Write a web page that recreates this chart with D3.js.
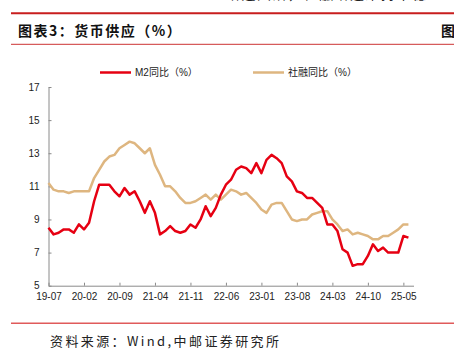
<!DOCTYPE html>
<html lang="zh">
<head>
<meta charset="UTF-8">
<title>货币供应</title>
<script src="https://d3js.org/d3.v7.min.js"></script>
<style>
  body { margin: 0; background: #fff; }
  svg { display: block; }
</style>
</head>
<body>
<div id="chart"></div>
<script>
  // tick labels on the x axis (one every 7 months)
  const tickLabels = ["19-07", "20-02", "20-09", "21-04", "21-11", "22-06", "23-01", "23-08", "24-03", "24-10", "25-05"];
  const tickStep = 7;
  const yTicks = [5, 7, 9, 11, 13, 15, 17];

  // M2 同比 (%), monthly
  const m2 = [
    8.5, 8.1, 8.2, 8.4, 8.4, 8.2, 8.7, 8.4, 8.8, 10.1, 11.1, 11.1,
    11.1, 10.7, 10.4, 10.9, 10.5, 10.7, 10.1, 9.4, 10.1, 9.4, 8.1, 8.3,
    8.6, 8.3, 8.2, 8.3, 8.7, 8.5, 9.0, 9.8, 9.2, 9.7, 10.5, 11.1,
    11.4, 12.0, 12.2, 12.1, 11.8, 12.4, 11.8, 12.6, 12.9, 12.7, 12.4, 11.6,
    11.3, 10.7, 10.6, 10.3, 10.3, 10.0, 9.7, 8.7, 8.7, 8.3, 7.2, 7.0,
    6.2, 6.3, 6.3, 6.8, 7.5, 7.1, 7.3, 7.0, 7.0, 7.0, 8.0, 7.9
  ];

  // 社融同比 (%), monthly
  const tsf = [
    11.2, 10.8, 10.7, 10.7, 10.6, 10.7, 10.7, 10.7, 10.7, 11.5, 12.0, 12.5,
    12.8, 12.9, 13.3, 13.5, 13.7, 13.6, 13.3, 13.0, 13.3, 12.3, 11.7, 11.0,
    11.0, 10.7, 10.3, 10.0, 10.0, 10.1, 10.3, 10.5, 10.2, 10.5, 10.2, 10.5,
    10.8, 10.7, 10.5, 10.6, 10.3, 10.0, 9.6, 9.4, 9.9, 10.0, 10.0, 9.5,
    9.0, 8.9, 9.0, 9.0, 9.3, 9.4, 9.5, 9.5, 9.0, 8.7, 8.3, 8.4,
    8.1, 8.2, 8.1, 8.0, 7.8, 7.8, 8.0, 8.0, 8.2, 8.4, 8.7, 8.7
  ];

  const red = "#e60012";
  const tan = "#deb680";
  const W = 454, H = 351;
  const plot = { left: 48.5, right: 413.5, top: 87, bottom: 285.7 };

  const svg = d3.select("#chart").append("svg")
    .attr("width", W)
    .attr("height", H);

  const cjk = "'Noto Sans CJK SC', 'Noto Sans', sans-serif";
  const latin = "'Liberation Sans', Arial, sans-serif";

  // page header (cut off at the top)
  svg.append("text")
    .attr("x", 226).attr("y", -1)
    .attr("font-family", cjk).attr("font-size", 14)
    .attr("letter-spacing", 1.5)
    .attr("fill", "#222")
    .text("增速回落，社融增速维持平稳");

  svg.append("line")
    .attr("x1", 11).attr("x2", W).attr("y1", 13.3).attr("y2", 13.3)
    .attr("stroke", "#c81e1e").attr("stroke-width", 2);

  svg.append("text")
    .attr("x", 18).attr("y", 36)
    .attr("font-family", cjk).attr("font-size", 14).attr("font-weight", "bold")
    .attr("letter-spacing", 1.5)
    .attr("fill", "#111")
    .text("图表3：货币供应（%）");

  svg.append("text")
    .attr("x", 441).attr("y", 36)
    .attr("font-family", cjk).attr("font-size", 14).attr("font-weight", "bold")
    .attr("fill", "#111")
    .text("图");

  svg.append("line")
    .attr("x1", 11).attr("x2", W).attr("y1", 44.3).attr("y2", 44.3)
    .attr("stroke", "#cc3333").attr("stroke-width", 1);

  // scales
  const x = d3.scaleLinear().domain([0, m2.length]).range([plot.left, plot.right]);
  const y = d3.scaleLinear().domain([5, 17]).range([plot.bottom, plot.top]);

  // axes with inward ticks
  const xAxis = d3.axisBottom(x)
    .tickValues(tickLabels.map((d, i) => i * tickStep))
    .tickFormat((d, i) => tickLabels[i])
    .tickSize(-3)
    .tickSizeOuter(0)
    .tickPadding(7);

  const yAxis = d3.axisLeft(y)
    .tickValues(yTicks)
    .tickSize(-3)
    .tickSizeOuter(0)
    .tickPadding(9);

  const gx = svg.append("g")
    .attr("transform", "translate(0," + plot.bottom + ")")
    .call(xAxis);

  const gy = svg.append("g")
    .attr("transform", "translate(" + plot.left + ",0)")
    .call(yAxis);

  [gx, gy].forEach(g => {
    g.select(".domain").attr("stroke", "#8a8a8a");
    g.selectAll(".tick line").attr("stroke", "#8a8a8a");
    g.selectAll(".tick text")
      .attr("font-family", latin)
      .attr("font-size", 10)
      .attr("fill", "#222");
  });

  // lines
  const line = d3.line()
    .x((d, i) => x(i))
    .y(d => y(d));

  svg.append("path")
    .datum(tsf)
    .attr("fill", "none")
    .attr("stroke", tan)
    .attr("stroke-width", 2.5)
    .attr("stroke-linejoin", "round")
    .attr("d", line);

  svg.append("path")
    .datum(m2)
    .attr("fill", "none")
    .attr("stroke", red)
    .attr("stroke-width", 2.5)
    .attr("stroke-linejoin", "round")
    .attr("d", line);

  // legend
  const legend = [
    { name: "M2同比（%）", color: red, x: 100 },
    { name: "社融同比（%）", color: tan, x: 253 }
  ];
  const lg = svg.append("g").attr("transform", "translate(0,72.5)");
  legend.forEach(d => {
    lg.append("line")
      .attr("x1", d.x).attr("x2", d.x + 31)
      .attr("stroke", d.color).attr("stroke-width", 2.5);
    lg.append("text")
      .attr("x", d.x + 35).attr("y", 0)
      .attr("dy", "0.35em")
      .attr("font-family", latin + ", " + cjk)
      .attr("font-size", 10)
      .attr("fill", "#222")
      .text(d.name);
  });

  // footer
  svg.append("line")
    .attr("x1", 11).attr("x2", W).attr("y1", 323.3).attr("y2", 323.3)
    .attr("stroke", "#e05a5a").attr("stroke-width", 1.5);

  svg.append("text")
    .attr("x", 50).attr("y", 346)
    .attr("font-family", cjk).attr("font-size", 13)
    .attr("letter-spacing", 2.4)
    .attr("fill", "#222")
    .text("资料来源：Wind,中邮证券研究所");
</script>
</body>
</html>
